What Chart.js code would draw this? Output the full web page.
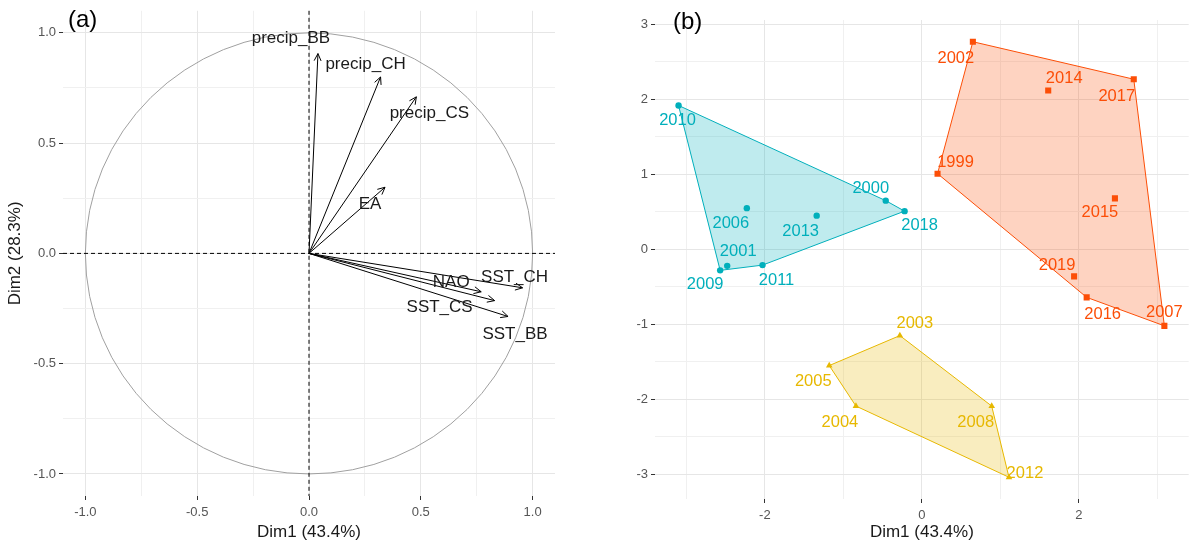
<!DOCTYPE html>
<html>
<head>
<meta charset="utf-8">
<script src="https://cdn.jsdelivr.net/npm/chart.js@4.4.1/dist/chart.umd.min.js"></script>
<style>
    html, body { margin: 0; padding: 0; background: #fff; }
    #wrap { position: relative; width: 1193px; height: 546px; overflow: hidden; }
    .panel { position: absolute; top: 0; }
    #panel-a { left: 0; }
    #panel-b { left: 600px; }
</style>
</head>
<body>
<div id="wrap">
    <div class="panel" id="panel-a"><canvas id="varChart" width="560" height="546"></canvas></div>
    <div class="panel" id="panel-b"><canvas id="indChart" width="593" height="546"></canvas></div>
</div>
<script>
// Panel (a): variable coordinates on Dim1 / Dim2
const varNames = ["precip_BB", "precip_CH", "precip_CS", "EA", "SST_CH", "NAO", "SST_CS", "SST_BB"];
const varDim1 = [0.04, 0.32, 0.48, 0.34, 0.955, 0.77, 0.83, 0.89];
const varDim2 = [0.906, 0.80, 0.71, 0.30, -0.156, -0.174, -0.214, -0.286];
const corTicks = [-1.0, -0.5, 0.0, 0.5, 1.0];
const corMinor = [-0.75, -0.25, 0.25, 0.75];

// Panel (b): years by cluster
const years1 = ["2010", "2006", "2013", "2000", "2018", "2001", "2009", "2011"];
const dim1C1 = [-3.10, -2.23, -1.34, -0.46, -0.22, -2.48, -2.57, -2.03];
const dim2C1 = [1.92, 0.55, 0.45, 0.65, 0.51, -0.22, -0.28, -0.21];

const years2 = ["2003", "2005", "2004", "2008", "2012"];
const dim1C2 = [-0.28, -1.18, -0.84, 0.89, 1.11];
const dim2C2 = [-1.15, -1.55, -2.09, -2.09, -3.04];

const years3 = ["2002", "2014", "2017", "1999", "2015", "2019", "2016", "2007"];
const dim1C3 = [0.65, 1.61, 2.70, 0.20, 2.46, 1.94, 2.10, 3.09];
const dim2C3 = [2.77, 2.12, 2.27, 1.01, 0.68, -0.36, -0.64, -1.02];

const dim1Ticks = [-2, 0, 2];
const dim1Minor = [-3, -1, 1, 3];
const dim2Ticks = [-3, -2, -1, 0, 1, 2, 3];
const dim2Minor = [-2.5, -1.5, -0.5, 0.5, 1.5, 2.5];

// label offsets in pixels (layout only)
const varNudge = [[-27, -15], [-15, -13], [13, 16], [-15, 17], [-8, -10], [-30, -9], [-55, 7], [7, 18]];
const nudge1 = [[-1, 15], [-16, 15], [-16, 16], [-15, -12], [15, 14], [11, -14], [-15, 14], [14, 15]];
const nudge2 = [[15, -12], [-16, 16], [-16, 16], [-16, 16], [16, -4]];
const nudge3 = [[-17, 17], [16, -12], [-17, 17], [18, -11], [-15, 14], [-17, -11], [16, 17], [0, -13]];

const FONT = "'Liberation Sans', Arial, sans-serif";
Chart.defaults.font.family = FONT;

// axis with major + minor grid lines, labels only on majors
function gridAxis(min, max, major, minor, fmt, size, title) {
    const all = major.concat(minor).sort((a, b) => a - b);
    const horizontal = size.height !== undefined;
    return {
        type: "linear",
        min: min,
        max: max,
        afterBuildTicks: (s) => { s.ticks = all.map((v) => ({ value: v })); },
        afterFit: (s) => {
            if (horizontal) s.height = size.height; else s.width = size.width;
        },
        ticks: {
            autoSkip: false,
            maxRotation: 0,
            padding: horizontal ? 5 : 3,
            color: "#555",
            font: { size: 13 },
            callback: (v) => (major.includes(v) ? fmt(v) : ""),
        },
        grid: {
            color: (c) => (c.tick && major.includes(c.tick.value) ? "#e6e6e6" : "#f0f0f0"),
            tickColor: (c) => (c.tick && major.includes(c.tick.value) ? "#333" : "rgba(0,0,0,0)"),
            tickLength: 4,
        },
        border: { display: false },
        title: {
            display: !!title,
            text: title || "",
            color: "#1a1a1a",
            font: { size: 17 },
            padding: horizontal ? { top: 0, bottom: 3 } : { top: 5, bottom: 0 },
        },
    };
}

function tagPlugin(text, x, y) {
    return {
        id: "tag",
        afterDraw(chart) {
            const ctx = chart.ctx;
            ctx.save();
            ctx.font = "24px " + FONT;
            ctx.fillStyle = "#000";
            ctx.textAlign = "left";
            ctx.textBaseline = "middle";
            ctx.fillText(text, x, y);
            ctx.restore();
        },
    };
}

// ---------- Panel (a) ----------
const circlePlugin = {
    id: "corCircle",
    beforeDatasetsDraw(chart) {
        const { ctx, chartArea: a, scales: { x, y } } = chart;
        const cx = x.getPixelForValue(0);
        const cy = y.getPixelForValue(0);
        ctx.save();
        ctx.strokeStyle = "#a0a0a0";
        ctx.lineWidth = 1;
        ctx.beginPath();
        ctx.ellipse(cx, cy, x.getPixelForValue(1) - cx, cy - y.getPixelForValue(1), 0, 0, 2 * Math.PI);
        ctx.stroke();
        ctx.strokeStyle = "#000";
        ctx.setLineDash([4, 3]);
        ctx.beginPath();
        ctx.moveTo(a.left, cy);
        ctx.lineTo(a.right, cy);
        ctx.moveTo(cx, a.top);
        ctx.lineTo(cx, a.bottom);
        ctx.stroke();
        ctx.restore();
    },
};

const arrowPlugin = {
    id: "arrows",
    afterDatasetsDraw(chart) {
        const ctx = chart.ctx;
        ctx.save();
        ctx.strokeStyle = "#000";
        ctx.lineWidth = 1;
        ctx.font = "17px " + FONT;
        ctx.fillStyle = "#1a1a1a";
        ctx.textAlign = "center";
        ctx.textBaseline = "middle";
        varNames.forEach((name, i) => {
            const pts = chart.getDatasetMeta(i).data;
            const p0 = pts[0], p1 = pts[1];
            const ang = Math.atan2(p1.y - p0.y, p1.x - p0.x);
            const len = 8, spread = Math.PI / 7;
            ctx.beginPath();
            ctx.moveTo(p1.x - len * Math.cos(ang - spread), p1.y - len * Math.sin(ang - spread));
            ctx.lineTo(p1.x, p1.y);
            ctx.lineTo(p1.x - len * Math.cos(ang + spread), p1.y - len * Math.sin(ang + spread));
            ctx.stroke();
            ctx.fillText(name, p1.x + varNudge[i][0], p1.y + varNudge[i][1]);
        });
        ctx.restore();
    },
};

new Chart(document.getElementById("varChart"), {
    type: "scatter",
    data: {
        datasets: varNames.map((name, i) => ({
            label: name,
            data: [{ x: 0, y: 0 }, { x: varDim1[i], y: varDim2[i] }],
            showLine: true,
            borderColor: "#000",
            borderWidth: 1,
            pointRadius: 0,
        })),
    },
    options: {
        responsive: false,
        animation: false,
        layout: { padding: { left: 0, right: 5, top: 4, bottom: 0 } },
        plugins: { legend: { display: false }, tooltip: { enabled: false } },
        scales: {
            x: gridAxis(-1.1, 1.1, corTicks, corMinor, (v) => v.toFixed(1), { height: 50 }, "Dim1 (43.4%)"),
            y: gridAxis(-1.1, 1.1, corTicks, corMinor, (v) => v.toFixed(1), { width: 63 }, "Dim2 (28.3%)"),
        },
    },
    plugins: [circlePlugin, arrowPlugin, tagPlugin("(a)", 68, 20)],
});

// ---------- Panel (b) ----------
function convexHull(pts) {
    const p = pts.slice().sort((a, b) => a.x - b.x || a.y - b.y);
    const cross = (o, a, b) => (a.x - o.x) * (b.y - o.y) - (a.y - o.y) * (b.x - o.x);
    const lower = [];
    for (const q of p) {
        while (lower.length >= 2 && cross(lower[lower.length - 2], lower[lower.length - 1], q) <= 0) lower.pop();
        lower.push(q);
    }
    const upper = [];
    for (const q of p.slice().reverse()) {
        while (upper.length >= 2 && cross(upper[upper.length - 2], upper[upper.length - 1], q) <= 0) upper.pop();
        upper.push(q);
    }
    upper.pop();
    lower.pop();
    const hull = lower.concat(upper);
    hull.push(hull[0]);
    return hull;
}

const clusters = [
    { years: years1, d1: dim1C1, d2: dim2C1, color: "#00AFBB", fill: "rgba(0,175,187,0.25)", shape: "circle", r: 3.2, nudge: nudge1 },
    { years: years2, d1: dim1C2, d2: dim2C2, color: "#E7B800", fill: "rgba(231,184,0,0.25)", shape: "triangle", r: 3.8, nudge: nudge2 },
    { years: years3, d1: dim1C3, d2: dim2C3, color: "#FC4E07", fill: "rgba(252,78,7,0.25)", shape: "rect", r: 4.3, nudge: nudge3 },
];

const indDatasets = [];
clusters.forEach((c) => {
    const pts = c.d1.map((x, i) => ({ x: x, y: c.d2[i] }));
    indDatasets.push({
        data: convexHull(pts),
        showLine: true,
        fill: "shape",
        backgroundColor: c.fill,
        borderColor: c.color,
        borderWidth: 1,
        pointRadius: 0,
        order: 2,
    });
    indDatasets.push({
        data: pts,
        pointStyle: c.shape,
        pointRadius: c.r,
        backgroundColor: c.color,
        borderColor: c.color,
        borderWidth: 0,
        order: 1,
    });
});

const yearLabelPlugin = {
    id: "yearLabels",
    afterDatasetsDraw(chart) {
        const ctx = chart.ctx;
        ctx.save();
        ctx.font = "16.5px " + FONT;
        ctx.textAlign = "center";
        ctx.textBaseline = "middle";
        clusters.forEach((c, k) => {
            const meta = chart.getDatasetMeta(k * 2 + 1);
            ctx.fillStyle = c.color;
            meta.data.forEach((el, i) => {
                ctx.fillText(c.years[i], el.x + c.nudge[i][0], el.y + c.nudge[i][1]);
            });
        });
        ctx.restore();
    },
};

new Chart(document.getElementById("indChart"), {
    type: "scatter",
    data: { datasets: indDatasets },
    options: {
        responsive: false,
        animation: false,
        layout: { padding: { left: 0, right: 1, top: 20, bottom: 0 } },
        plugins: { legend: { display: false }, tooltip: { enabled: false } },
        scales: {
            x: gridAxis(-3.4, 3.4, dim1Ticks, dim1Minor, (v) => String(v), { height: 47 }, "Dim1 (43.4%)"),
            y: gridAxis(-3.33, 3.06, dim2Ticks, dim2Minor, (v) => String(v), { width: 55 }, ""),
        },
    },
    plugins: [yearLabelPlugin, tagPlugin("(b)", 73, 22)],
});
</script>
</body>
</html>
